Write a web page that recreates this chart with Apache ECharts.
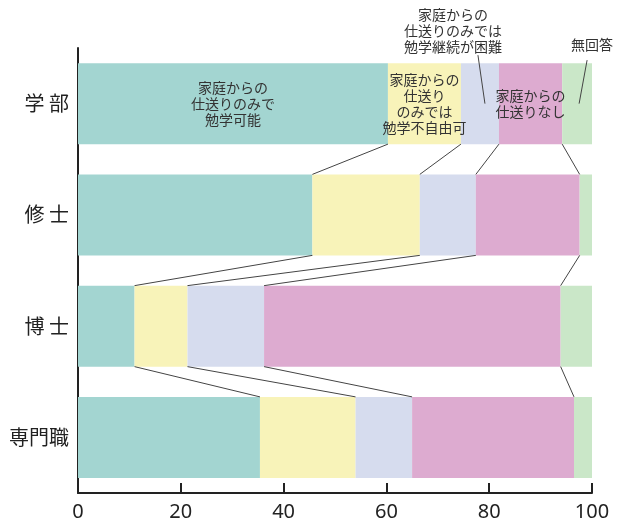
<!DOCTYPE html>
<html lang="ja">
<head>
    <meta charset="UTF-8">
    <title>家庭からの仕送り</title>
    <script src="https://cdn.jsdelivr.net/npm/echarts@6/dist/echarts.min.js"></script>
</head>
<body style="margin:0;background:#fff;">
<div id="main" style="width: 618px;height:522px;"></div>
<script type="text/javascript">
    // データ
    var categories = ["学 部", "修 士", "博 士", "専門職"];
    var seriesNames = [
        "家庭からの\n仕送りのみで\n勉学可能",
        "家庭からの\n仕送り\nのみでは\n勉学不自由可",
        "家庭からの\n仕送りのみでは\n勉学継続が困難",
        "家庭からの\n仕送りなし",
        "無回答"
    ];
    var kanou    = [60.3, 45.6, 11.0, 35.4];
    var fujiyuu  = [14.2, 20.9, 10.3, 18.6];
    var konnan   = [7.4, 10.9, 14.9, 11.0];
    var nashi    = [12.3, 20.2, 57.7, 31.5];
    var mukaitou = [5.8, 2.4, 6.1, 3.5];
    var xTicks = [0, 20, 40, 60, 80, 100];

    var values = [kanou, fujiyuu, konnan, nashi, mukaitou];
    var colors = ["#a3d5d1", "#f8f3b9", "#d6dcee", "#ddabd0", "#cae7c8"];
    var BAR_W = 81;

    // 累積値
    function cum(k, c) {
        var s = 0;
        for (var i = 0; i <= k; i++) s += values[i][c];
        return s;
    }

    // バー間の接続線データ [上の値, 上のカテゴリ, 下の値, 下のカテゴリ]
    var links = [];
    for (var c = 0; c < categories.length - 1; c++) {
        for (var k = 0; k < 4; k++) {
            links.push([cum(k, c), c, cum(k, c + 1), c + 1]);
        }
    }

    // 引き出し線 (学部の「困難」と「無回答」)
    var leaders = [
        [cum(1, 0) + konnan[0] / 2, 0, -2, -8, 5],
        [cum(3, 0) + mukaitou[0] / 2, 0, 10, -3, 2]
    ];

    var myChart = echarts.init(document.getElementById("main"));

    var textFont = "'Noto Sans CJK JP', sans-serif";

    var labelCfg = [
        {position: "inside"},
        {position: "inside"},
        {position: "top", distance: 8, offset: [-27, 0]},
        {position: "inside"},
        {position: "top", distance: 10, offset: [15, 0]}
    ];

    var series = [];
    for (var i = 0; i < 5; i++) {
        (function (i) {
            series.push({
                name: seriesNames[i],
                type: "bar",
                stack: "total",
                barWidth: BAR_W,
                itemStyle: {color: colors[i]},
                label: {
                    show: true,
                    position: labelCfg[i].position,
                    distance: labelCfg[i].distance,
                    offset: labelCfg[i].offset,
                    fontFamily: textFont,
                    fontSize: 14,
                    lineHeight: 16,
                    color: "#333",
                    align: "center",
                    formatter: function (p) {
                        return p.dataIndex === 0 ? seriesNames[i] : "";
                    }
                },
                silent: true,
                data: values[i]
            });
        })(i);
    }

    series.push({
        type: "custom",
        silent: true,
        z: 5,
        renderItem: function (params, api) {
            var top = api.coord([api.value(0), api.value(1)]);
            var bot = api.coord([api.value(2), api.value(3)]);
            return {
                type: "line",
                shape: {x1: top[0], y1: top[1] + BAR_W / 2, x2: bot[0], y2: bot[1] - BAR_W / 2},
                style: {stroke: "#444", lineWidth: 1}
            };
        },
        encode: {x: [0, 2], y: [1, 3]},
        data: links
    });

    series.push({
        type: "custom",
        silent: true,
        z: 5,
        renderItem: function (params, api) {
            var p = api.coord([api.value(0), api.value(1)]);
            return {
                type: "line",
                shape: {
                    x1: p[0] + api.value(2), y1: p[1] - BAR_W / 2 + api.value(3),
                    x2: p[0] + api.value(4), y2: p[1]
                },
                style: {stroke: "#444", lineWidth: 1}
            };
        },
        encode: {x: 0, y: 1},
        data: leaders
    });

    var option = {
        animation: false,
        grid: {left: 78, right: 26, top: 48, bottom: 27},
        xAxis: {
            type: "value",
            min: 0,
            max: 100,
            interval: 20,
            axisLine: {show: true, lineStyle: {color: "#222", width: 2}},
            axisTick: {show: true, inside: true, length: 10, lineStyle: {color: "#222", width: 2}},
            splitLine: {show: false},
            axisLabel: {
                margin: 9,
                fontFamily: "'Noto Sans', sans-serif",
                fontSize: 20,
                color: "#222",
                formatter: function (v) {
                    return xTicks.indexOf(v) >= 0 ? String(v) : "";
                }
            }
        },
        yAxis: {
            type: "category",
            inverse: true,
            data: categories,
            axisLine: {show: true, lineStyle: {color: "#222", width: 2}},
            axisTick: {show: false},
            axisLabel: {
                margin: 9,
                fontFamily: textFont,
                fontSize: 20,
                color: "#222"
            }
        },
        series: series
    };

    myChart.setOption(option);
</script>
</body>
</html>
